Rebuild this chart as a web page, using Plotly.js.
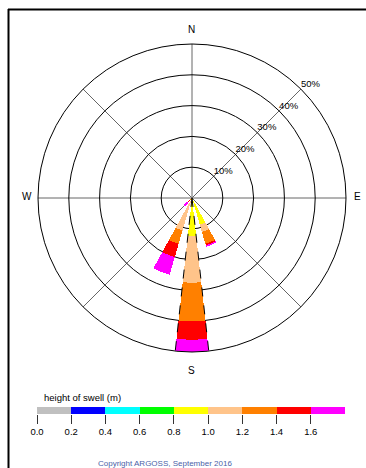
<!DOCTYPE html>
<html>
<head>
<meta charset="utf-8">
<script src="https://cdn.plot.ly/plotly-3.0.1.min.js"></script>
<style>html,body{margin:0;padding:0;background:#fff;}#chart{width:366px;height:468px;}</style>
</head>
<body>
<div id="chart"></div>
<script>
// ---- data ----
var directions = [0, 22.5, 45, 67.5, 90, 112.5, 135, 157.5, 180, 202.5, 225, 247.5, 270, 292.5, 315, 337.5];
var classLabels = ['0.0-0.2', '0.2-0.4', '0.4-0.6', '0.6-0.8', '0.8-1.0', '1.0-1.2', '1.2-1.4', '1.4-1.6', '>1.6'];
var classColors = ['#c0c0c0', '#0000ff', '#00ffff', '#00ff00', '#ffff00', '#ffc48a', '#ff8000', '#ff0000', '#ff00ff'];
// percentage of occurrence per direction (N..NNW) for each swell height class
var h00_02 = [0,0,0,0,0,0,0,0,0,0,0,0,0,0,0,0];
var h02_04 = [0,0,0,0,0,0,0,0,0,0,0,0,0,0,0,0];
var h04_06 = [0,0,0,0,0,0,0,0,0,0,0,0,0,0,0,0];
var h06_08 = [0,0,0,0,0,0,0,0,0,0,0,0,0,0,0,0];
var h08_10 = [0,0,0,0,0,0,0,9.0,12.5,1.0,0,0,0,0,0,0];
var h10_12 = [0,0,0,0,0,0,0,2.5,15.0,10.0,0,0,0,0,0,0];
var h12_14 = [0,0,0,0,0,0,0,4.0,12.5,4.5,1.0,0,0,0,0,0];
var h14_16 = [0,0,0,0,0,0,0,0.5,6.0,4.5,1.0,0,0,0,0,0];
var h16_up = [0,0,0,0,0,0,0,0.5,4.0,6.0,1.5,0,0,0,0,0];
var classValues = [h00_02, h02_04, h04_06, h06_08, h08_10, h10_12, h12_14, h14_16, h16_up];

var compassLabels = ['N', 'E', 'S', 'W'];
var radialTicks = [10, 20, 30, 40, 50];
var radialTickLabels = ['10%', '20%', '30%', '40%', '50%'];

var legendEdges = [0, 0.2, 0.4, 0.6, 0.8, 1.0, 1.2, 1.4, 1.6];
var legendTickLabels = ['0.0', '0.2', '0.4', '0.6', '0.8', '1.0', '1.2', '1.4', '1.6'];
var legendTitle = 'height of swell (m)';
var copyrightText = 'Copyright ARGOSS, September 2016';

// ---- geometry / style ----
var W = 366, H = 468;
function px(x) { return x / W; }
function py(y) { return 1 - y / H; }
var barWidth = 12.5;
var FONT = 'Liberation Sans, Arial, sans-serif';

var traces = [];
for (var c = 0; c < classValues.length; c++) {
  traces.push({
    type: 'barpolar',
    r: classValues[c],
    theta: directions,
    width: directions.map(function () { return barWidth; }),
    name: classLabels[c],
    marker: { color: classColors[c], line: { width: 0 } },
    subplot: 'polar',
    showlegend: false,
    hoverinfo: 'skip'
  });
}

// dashed outline of the dominant (largest total) direction
var totals = directions.map(function (d, i) {
  var s = 0; for (var c = 0; c < classValues.length; c++) s += classValues[c][i]; return s;
});
var iMax = totals.indexOf(Math.max.apply(null, totals));
[-1, 1].forEach(function (sgn) {
  traces.push({
    type: 'scatterpolar',
    r: [0, totals[iMax]],
    theta: [directions[iMax], directions[iMax] + sgn * barWidth / 2],
    mode: 'lines',
    line: { color: '#000', width: 1, dash: 'dash' },
    subplot: 'polar', showlegend: false, hoverinfo: 'skip'
  });
});

// radial tick labels along the NE gridline
traces.push({
  type: 'scatterpolar',
  r: radialTicks,
  theta: radialTicks.map(function () { return 45; }),
  mode: 'text',
  text: radialTickLabels,
  textposition: 'top right',
  textfont: { family: FONT, size: 9.5, color: '#000000' },
  cliponaxis: false,
  subplot: 'polar', showlegend: false, hoverinfo: 'skip'
});

// legend colour strip
traces.push({
  type: 'bar',
  x: legendEdges.map(function (e) { return e + 0.1; }),
  y: legendEdges.map(function () { return 1; }),
  width: legendEdges.map(function () { return 0.2; }),
  marker: { color: classColors, line: { width: 0 } },
  xaxis: 'x', yaxis: 'y',
  showlegend: false, hoverinfo: 'skip'
});

var annotations = [];
// compass labels
var compassPos = { N: [191, 30], E: [357, 196], S: [191, 370], W: [27, 196] };
compassLabels.forEach(function (l) {
  annotations.push({
    text: l, xref: 'paper', yref: 'paper',
    x: px(compassPos[l][0]), y: py(compassPos[l][1]),
    xanchor: 'center', yanchor: 'middle', showarrow: false,
    font: { family: FONT, size: 10, color: '#000' }
  });
});
annotations.push({
  text: legendTitle, xref: 'paper', yref: 'paper',
  x: px(42), y: py(397), xanchor: 'left', yanchor: 'middle', showarrow: false,
  font: { family: FONT, size: 9.5, color: '#000' }
});
annotations.push({
  text: copyrightText, xref: 'paper', yref: 'paper',
  x: px(165), y: py(463), xanchor: 'center', yanchor: 'middle', showarrow: false,
  font: { family: FONT, size: 8, color: '#4a5fa8' }
});

var layout = {
  width: W, height: H,
  margin: { l: 0, r: 0, t: 0, b: 0, pad: 0 },
  paper_bgcolor: '#fff',
  plot_bgcolor: '#fff',
  barmode: 'stack',
  showlegend: false,
  polar: {
    domain: { x: [px(38), px(346)], y: [py(352), py(44)] },
    bgcolor: '#fff',
    barmode: 'stack',
    bargap: 0,
    radialaxis: {
      range: [0, 50], tickvals: [10, 20, 30, 40], showticklabels: false,
      ticks: '', showline: false, gridcolor: '#000', gridwidth: 1,
      layer: 'above traces', angle: 45
    },
    angularaxis: {
      rotation: 90, direction: 'clockwise',
      tickmode: 'array', tickvals: [0, 45, 90, 135, 180, 225, 270, 315],
      showticklabels: false, ticks: '',
      showline: true, linecolor: '#000', linewidth: 1,
      gridcolor: '#666', gridwidth: 1,
      layer: 'above traces'
    }
  },
  xaxis: {
    domain: [px(37), px(345)], range: [0, 1.8], anchor: 'y',
    tickmode: 'array', tickvals: legendEdges, ticktext: legendTickLabels,
    ticks: 'outside', ticklen: 9, tickwidth: 1, tickcolor: '#333',
    showgrid: false, zeroline: false, showline: false,
    tickfont: { family: FONT, size: 9.5, color: '#000' },
    fixedrange: true
  },
  yaxis: {
    domain: [py(414), py(407)], range: [0, 1], anchor: 'x',
    visible: false, fixedrange: true
  },
  shapes: [
    { type: 'line', xref: 'paper', yref: 'paper', x0: px(8.5), x1: px(8.5), y0: py(9), y1: py(468), line: { color: '#000', width: 2 } },
    { type: 'line', xref: 'paper', yref: 'paper', x0: px(8), x1: px(366), y0: py(9.5), y1: py(9.5), line: { color: '#000', width: 2 } }
  ],
  annotations: annotations
};

Plotly.newPlot('chart', traces, layout, { displayModeBar: false, staticPlot: true });
</script>
</body>
</html>
